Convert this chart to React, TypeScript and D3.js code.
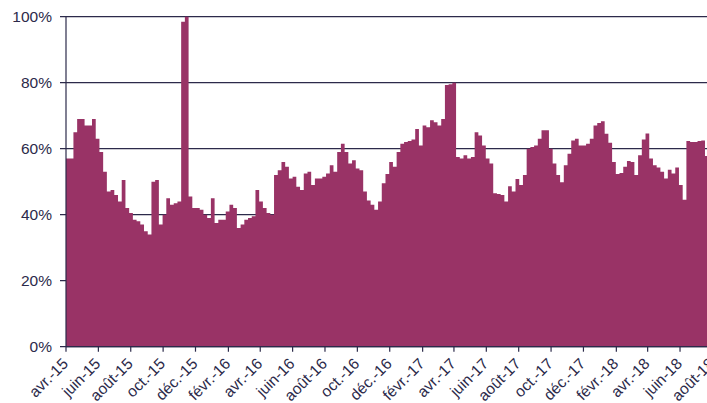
import React from "react";
import * as d3 from "d3";

const startDate = new Date(2015, 3, 1);
const endDate = new Date(2018, 7, 1);

// weekly rate (%), one value per week from 1 April 2015
const weeklyRate = [
  57, 57, 65, 69, 69, 67, 67, 69, 63, 59,
  53, 47, 47.5, 46, 44, 50.5, 42, 40.5, 38.5, 38,
  37, 35, 34, 50, 50.5, 37, 40, 45, 43, 43.5,
  44, 98.5, 100, 45.5, 42, 42, 41.5, 40, 39, 45,
  37.5, 38.5, 38.5, 41, 43, 42, 36, 37, 38.5, 39,
  39.5, 47.5, 44, 42, 40.5, 40, 52, 53.5, 56, 54.5,
  51, 51.5, 48.5, 47.5, 52.5, 53, 49, 51, 51, 51.5,
  52.5, 55, 53, 59, 61.5, 59, 55.5, 56.5, 54, 53.5,
  47, 44.3, 43, 41.5, 44, 49.5, 52.3, 56, 54.5, 59,
  61.5, 62, 62.3, 62.8, 66, 61, 67, 66.5, 68.6, 68,
  67, 69, 79.3, 79.5, 80, 57.5, 57, 58, 57, 57.5,
  65, 64, 61, 57, 55.5, 46.5, 46.3, 46, 44, 48.6,
  47, 50.8, 49, 52, 60, 60.5, 61, 63, 65.6, 65.6,
  60, 55.5, 52, 49.8, 55, 58.5, 62.5, 63, 61, 61,
  61.5, 63, 67, 67.8, 68.3, 64.5, 61.8, 56, 52.3, 52.6,
  54.5, 56.3, 56, 52, 58, 62.8, 64.6, 57, 55, 54.3,
  53, 51, 53.6, 52.5, 54.3, 49, 44.5, 62.3, 62, 62,
  62.3, 62.5, 57.8,
];

const tickLabels = [
  "avr.-15", "juin-15", "août-15", "oct.-15", "déc.-15", "févr.-16",
  "avr.-16", "juin-16", "août-16", "oct.-16", "déc.-16", "févr.-17",
  "avr.-17", "juin-17", "août-17", "oct.-17", "déc.-17", "févr.-18",
  "avr.-18", "juin-18", "août-18",
];

const yTicks = [0, 20, 40, 60, 80, 100];

const ink = "#2c2a4a";
const font = "'Liberation Sans', Arial, sans-serif";

export default function App() {
  const width = 707;
  const height = 403;
  const left = 66;
  const top = 16.7;
  const bottom = 346.7;

  const x = d3.scaleTime().domain([startDate, endDate]).range([left, 712.4]);
  const y = d3.scaleLinear().domain([0, 100]).range([bottom, top]);

  const points = weeklyRate.map((v, i) => ({
    date: d3.timeDay.offset(startDate, 7 * i),
    v,
  }));
  points.push({
    date: d3.timeDay.offset(startDate, 7 * weeklyRate.length),
    v: weeklyRate[weeklyRate.length - 1],
  });

  const area = d3
    .area<{ date: Date; v: number }>()
    .x((d) => x(d.date))
    .y0(bottom)
    .y1((d) => y(d.v))
    .curve(d3.curveStepAfter);

  const tickDates = d3.timeMonth.range(startDate, d3.timeDay.offset(endDate, 1), 2);

  return (
    <>
      <style>{`body{margin:0}`}</style>
      <svg width={width} height={height} style={{ display: "block", fontFamily: font }}>
        {/* gridlines */}
        {yTicks.map((t) => (
          <line
            key={t}
            x1={left - 6}
            x2={width}
            y1={y(t)}
            y2={y(t)}
            stroke={ink}
            strokeWidth={1.2}
          />
        ))}

        {/* bars */}
        <path d={area(points) ?? ""} fill="#993366" />

        {/* axes */}
        <line x1={left} x2={left} y1={top} y2={bottom} stroke={ink} strokeWidth={1.2} />
        <line x1={left} x2={width} y1={bottom} y2={bottom} stroke={ink} strokeWidth={1.2} />

        {yTicks.map((t) => (
          <text
            key={t}
            x={52}
            y={y(t)}
            dy="0.36em"
            textAnchor="end"
            fontSize={15.5}
            fill={ink}
          >
            {t}%
          </text>
        ))}

        {tickDates.map((d, i) => {
          const tx = x(d);
          return (
            <g key={i}>
              <line x1={tx} x2={tx} y1={bottom} y2={bottom + 5} stroke={ink} strokeWidth={1.2} />
              <text
                transform={`translate(${tx + 3}, ${bottom + 18}) rotate(-45)`}
                textAnchor="end"
                fontSize={15.5}
                fill={ink}
              >
                {tickLabels[i]}
              </text>
            </g>
          );
        })}
      </svg>
    </>
  );
}
